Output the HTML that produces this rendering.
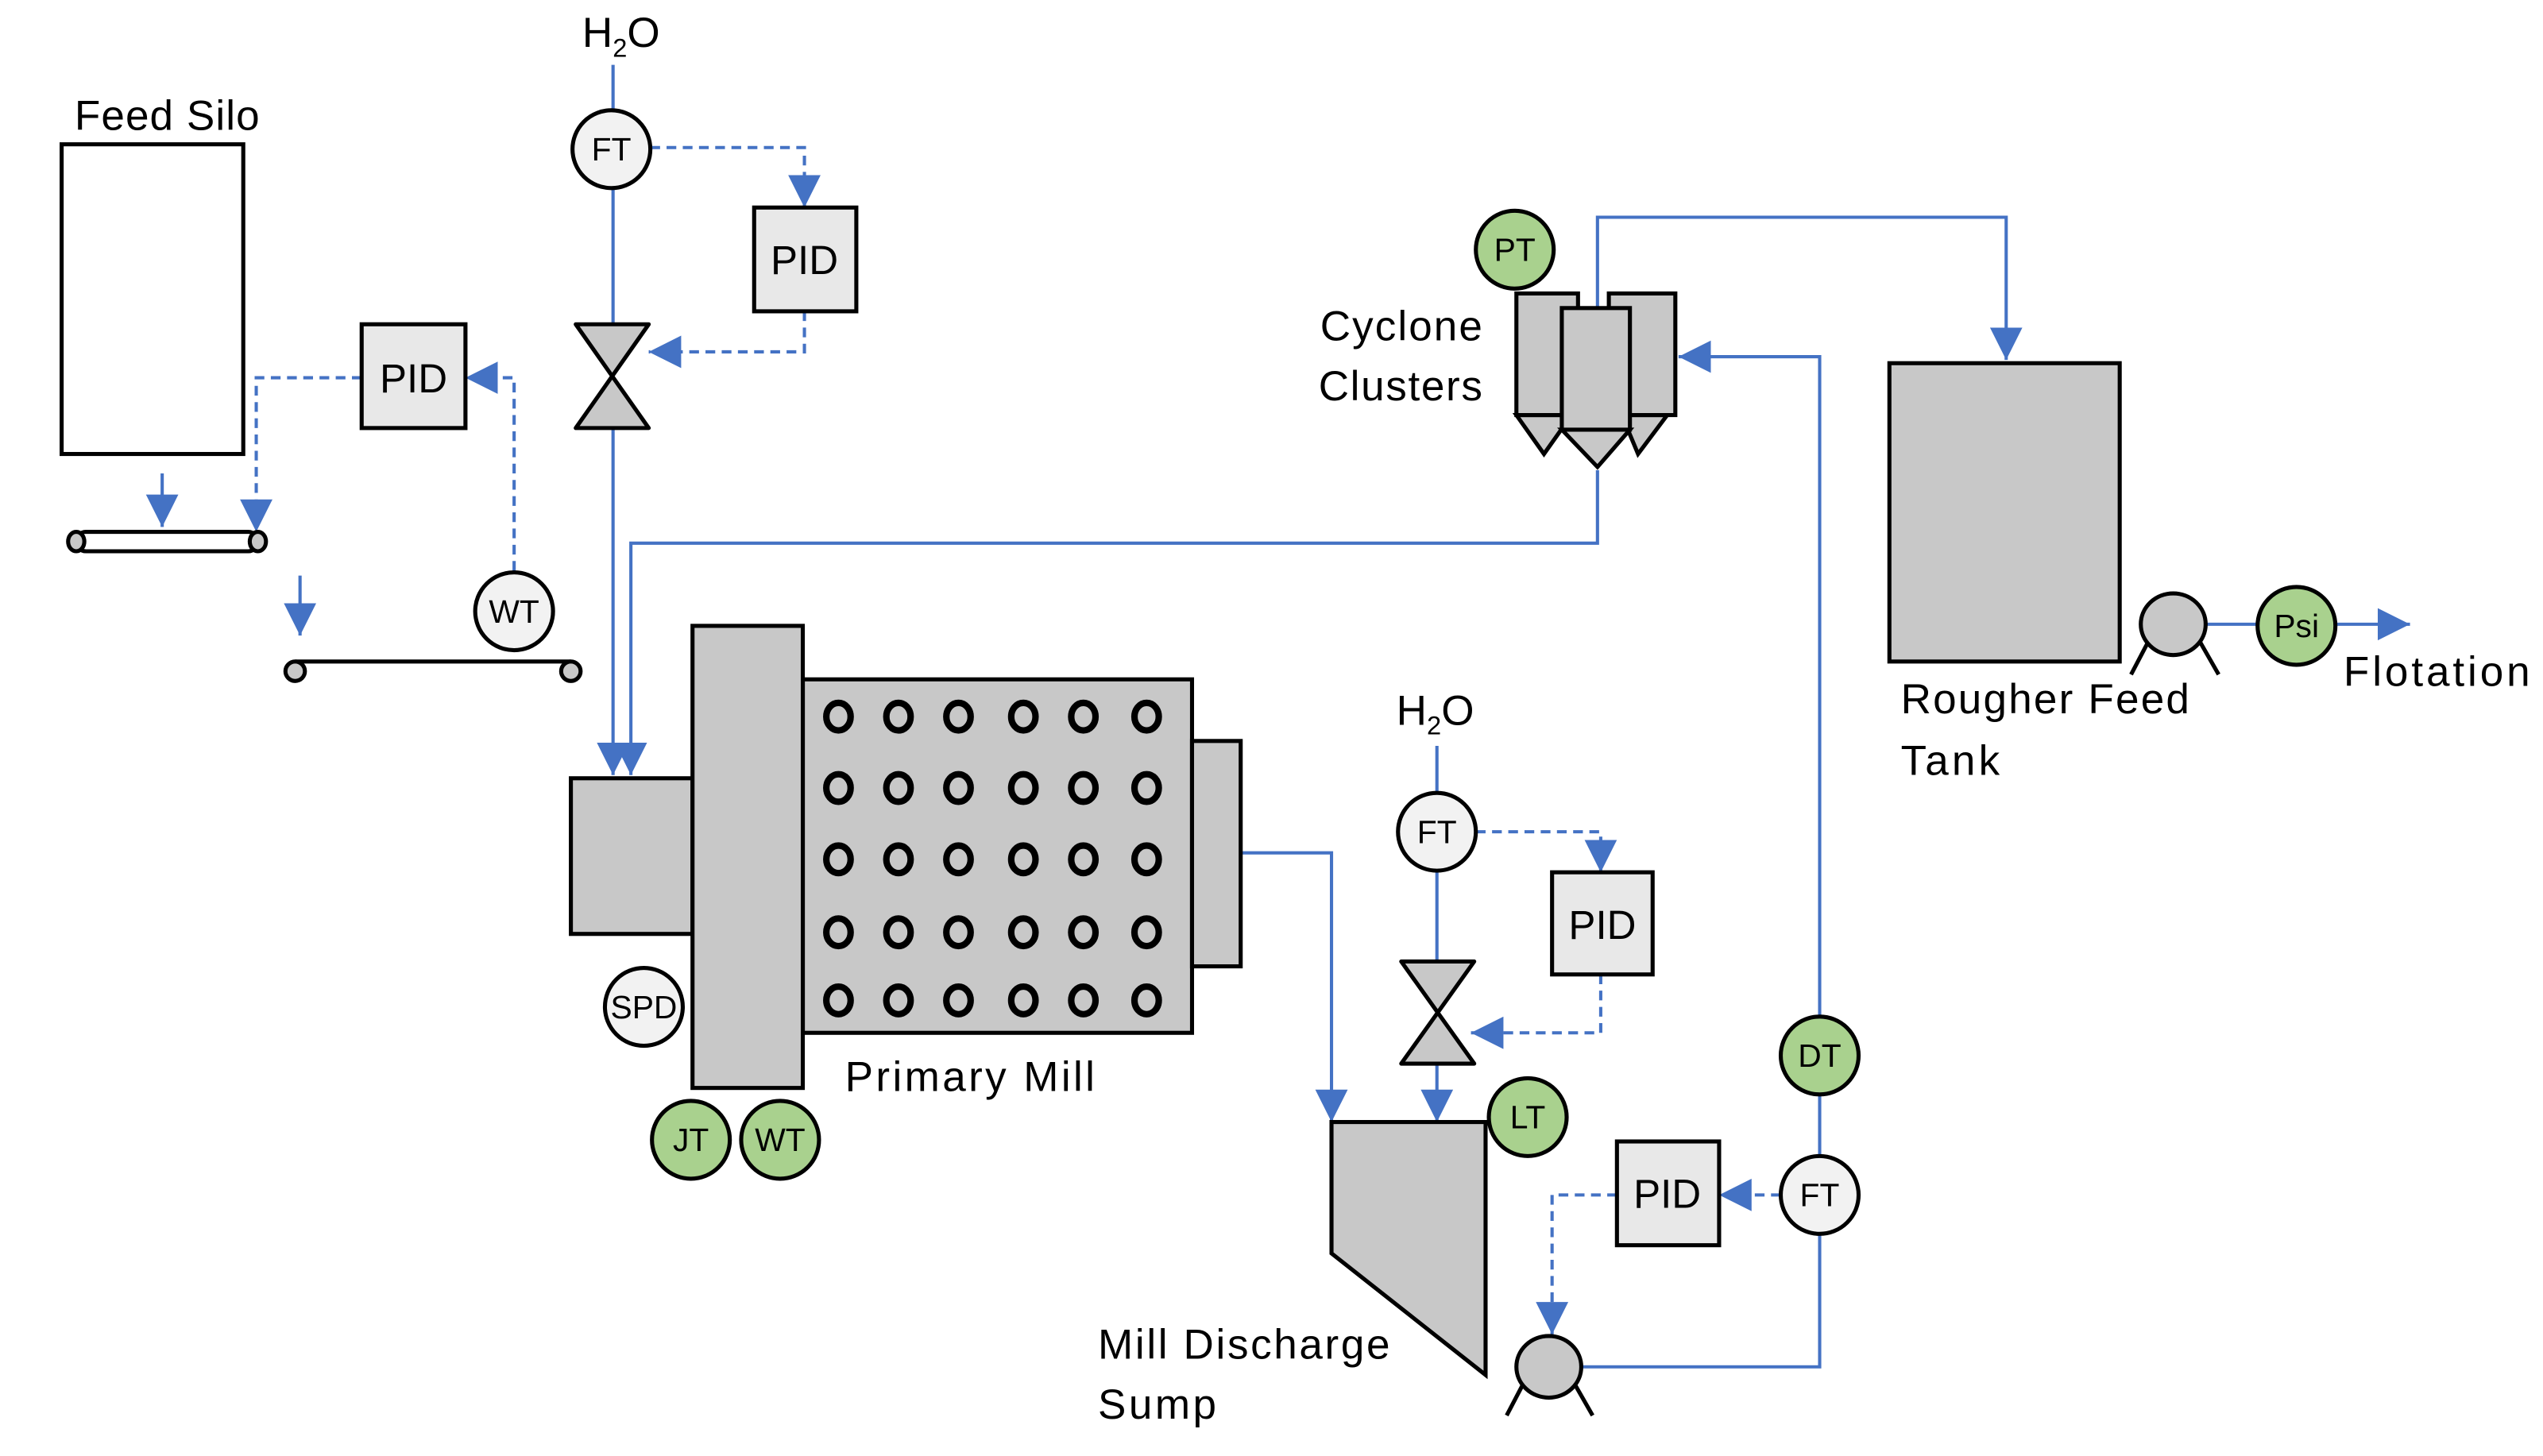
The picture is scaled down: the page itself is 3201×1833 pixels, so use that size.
<!DOCTYPE html>
<html><head><meta charset="utf-8"><style>html,body{margin:0;padding:0;background:#fff}svg{display:block}text{font-family:"Liberation Sans",sans-serif;fill:#000}</style></head>
<body>
<svg width="3201" height="1833" viewBox="0 0 1568 898" preserveAspectRatio="none" xmlns="http://www.w3.org/2000/svg">
<defs>
<marker id="b" viewBox="0 0 10 10" refX="10" refY="5" markerWidth="20" markerHeight="20" markerUnits="userSpaceOnUse" orient="auto"><path d="M0,0L10,5L0,10z" fill="#4472c4"/></marker>
</defs>
<g fill="none" stroke="#4472c4" stroke-width="2">
<path d="M378,40V68M378,116V200"/>
<path d="M378,264V478" marker-end="url(#b)"/>
<path d="M985,290V335H389V478" marker-end="url(#b)"/>
<path d="M985,190V134H1237V222" marker-end="url(#b)"/>
<path d="M975,843H1122V761M1122,713V675M1122,627V220H1035" marker-end="url(#b)"/>
<path d="M765,526H821V692" marker-end="url(#b)"/>
<path d="M886,460V489M886,537V593"/>
<path d="M886,656V692" marker-end="url(#b)"/>
<path d="M1360,385H1392M1440,385H1486" marker-end="url(#b)"/>
<path d="M100,292V325" marker-end="url(#b)"/>
<path d="M185,355V392" marker-end="url(#b)"/>
</g>
<g fill="none" stroke="#4472c4" stroke-width="2" stroke-dasharray="6,4">
<path d="M401,91H496V128" marker-end="url(#b)"/>
<path d="M496,192V217H400" marker-end="url(#b)"/>
<path d="M317,352V233H287" marker-end="url(#b)"/>
<path d="M223,233H158V328" marker-end="url(#b)"/>
<path d="M910,513H987V538" marker-end="url(#b)"/>
<path d="M987,601V637H907" marker-end="url(#b)"/>
<path d="M1098,737H1060" marker-end="url(#b)"/>
<path d="M997,737H957V823" marker-end="url(#b)"/>
</g>
<g stroke="#000" stroke-width="2.5">
<rect x="38" y="89" width="112" height="191" fill="#fff"/>
<rect x="47" y="328" width="112" height="12" rx="6" fill="#fff"/>
<ellipse cx="47" cy="334" rx="5" ry="6" fill="#c8c8c8"/>
<ellipse cx="159" cy="334" rx="5" ry="6" fill="#c8c8c8"/>
<path d="M182,408H352" fill="none"/>
<circle cx="182" cy="414" r="6" fill="#c8c8c8"/>
<circle cx="352" cy="414" r="6" fill="#c8c8c8"/>
<rect x="465" y="128" width="63" height="64" fill="#e8e8e8"/>
<rect x="223" y="200" width="64" height="64" fill="#e8e8e8"/>
<rect x="957" y="538" width="62" height="63" fill="#e8e8e8"/>
<rect x="997" y="704" width="63" height="64" fill="#e8e8e8"/>
<path d="M355,200H400L355,264H400Z" fill="#c8c8c8" stroke-linejoin="round"/>
<path d="M864,593H909L864,656H909Z" fill="#c8c8c8" stroke-linejoin="round"/>
<rect x="352" y="480" width="75" height="96" fill="#c8c8c8"/>
<rect x="495" y="419" width="240" height="218" fill="#c8c8c8"/>
<rect x="735" y="457" width="30" height="139" fill="#c8c8c8"/>
<rect x="427" y="386" width="68" height="285" fill="#c8c8c8"/>
<path d="M821,692H916V848L821,773Z" fill="#c8c8c8"/>
<path d="M935,256L952,280L969,256Z" fill="#c8c8c8"/>
<path d="M1000,256L1010,280L1028,256Z" fill="#c8c8c8"/>
<rect x="935" y="181" width="38" height="75" fill="#c8c8c8"/>
<rect x="992" y="181" width="41" height="75" fill="#c8c8c8"/>
<path d="M963,265L985,288L1005,265Z" fill="#c8c8c8"/>
<rect x="963" y="190" width="42" height="75" fill="#c8c8c8"/>
<rect x="1165" y="224" width="142" height="184" fill="#c8c8c8"/>
<path d="M1325,395L1314,416M1356,395L1368,416" fill="none"/>
<ellipse cx="1340" cy="385" rx="20" ry="19" fill="#c8c8c8"/>
<path d="M940,852L929,873M970,852L982,873" fill="none"/>
<ellipse cx="955" cy="843" rx="20" ry="19" fill="#c8c8c8"/>
</g>
<g fill="none" stroke="#000" stroke-width="4">
<g id="row">
<ellipse cx="517" cy="442" rx="7.5" ry="8.5"/><ellipse cx="554" cy="442" rx="7.5" ry="8.5"/><ellipse cx="591" cy="442" rx="7.5" ry="8.5"/><ellipse cx="631" cy="442" rx="7.5" ry="8.5"/><ellipse cx="668" cy="442" rx="7.5" ry="8.5"/><ellipse cx="707" cy="442" rx="7.5" ry="8.5"/>
</g>
<use href="#row" y="44"/><use href="#row" y="88"/><use href="#row" y="133"/><use href="#row" y="175"/>
</g>
<g stroke="#000" stroke-width="2.5">
<circle cx="377" cy="92" r="24" fill="#f2f2f2"/>
<circle cx="317" cy="377" r="24" fill="#f2f2f2"/>
<circle cx="397" cy="621" r="24" fill="#f2f2f2"/>
<circle cx="426" cy="703" r="24" fill="#a9d18e"/>
<circle cx="481" cy="703" r="24" fill="#a9d18e"/>
<circle cx="886" cy="513" r="24" fill="#f2f2f2"/>
<circle cx="942" cy="689" r="24" fill="#a9d18e"/>
<circle cx="1122" cy="651" r="24" fill="#a9d18e"/>
<circle cx="1122" cy="737" r="24" fill="#f2f2f2"/>
<circle cx="934" cy="154" r="24" fill="#a9d18e"/>
<circle cx="1416" cy="386" r="24" fill="#a9d18e"/>
</g>
<g font-size="20" text-anchor="middle">
<text x="377" y="99">FT</text><text x="317" y="384">WT</text><text x="397" y="628">SPD</text>
<text x="426" y="710">JT</text><text x="481" y="710">WT</text><text x="886" y="520">FT</text>
<text x="942" y="696">LT</text><text x="1122" y="658">DT</text><text x="1122" y="744">FT</text>
<text x="934" y="161">PT</text><text x="1416" y="393">Psi</text>
</g>
<g font-size="25" text-anchor="middle">
<text x="496" y="169">PID</text><text x="255" y="242">PID</text><text x="988" y="579">PID</text><text x="1028" y="745">PID</text>
</g>
<g font-size="26">
<text x="46" y="80" textLength="114">Feed Silo</text>
<text x="359" y="29">H<tspan font-size="16" dy="6">2</tspan><tspan dy="-6">O</tspan></text>
<text x="861" y="447">H<tspan font-size="16" dy="6">2</tspan><tspan dy="-6">O</tspan></text>
<text x="814" y="210" textLength="100">Cyclone</text>
<text x="813" y="247" textLength="101">Clusters</text>
<text x="521" y="673" textLength="154">Primary Mill</text>
<text x="677" y="838" textLength="180">Mill Discharge</text>
<text x="677" y="875" textLength="73">Sump</text>
<text x="1172" y="440" textLength="178">Rougher Feed</text>
<text x="1172" y="478" textLength="61">Tank</text>
<text x="1445" y="423" textLength="115">Flotation</text>
</g>
</svg>
</body></html>
